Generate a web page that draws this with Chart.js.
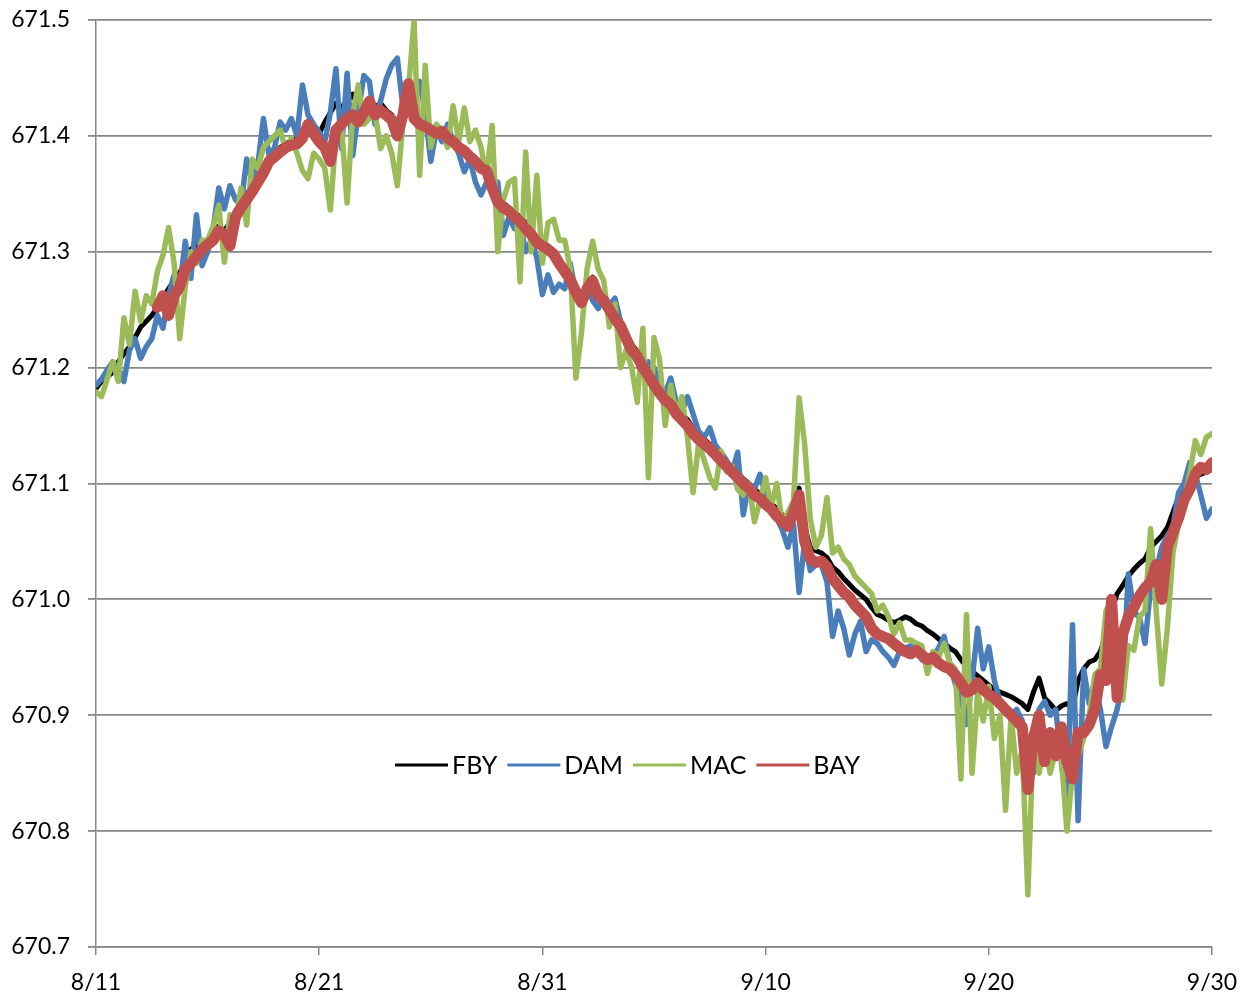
<!DOCTYPE html>
<html>
<head>
<meta charset="utf-8">
<script src="https://cdn.jsdelivr.net/npm/chart.js@4.4.1/dist/chart.umd.min.js"></script>
<style>
  html, body { margin: 0; padding: 0; background: #ffffff; }
  #wrap { width: 1251px; height: 1005px; }
</style>
</head>
<body>
<div id="wrap"><canvas id="c" width="1251" height="1005"></canvas></div>
<script>
// Lake elevation readings, one value every 6 hours starting 8/11 (day 0).
const sampleStepDays = 0.25;
const dateLabels = ['8/11', '8/21', '8/31', '9/10', '9/20', '9/30'];
const seriesNames = ['FBY', 'DAM', 'MAC', 'BAY'];
const seriesColors = ['#000000', '#4a7ebb', '#9bbb59', '#c0504d'];

const fby = [
  671.182, 671.188, 671.192, 671.196,
  671.205, 671.212, 671.218, 671.226,
  671.235, 671.240, 671.245, 671.252,
  671.260, 671.268, 671.275, 671.282,
  671.290, 671.302, 671.306, 671.308,
  671.310, 671.315, 671.322, 671.318,
  671.325, 671.335, 671.342, 671.350,
  671.356, 671.364, 671.372, 671.380,
  671.385, 671.390, 671.393, 671.396,
  671.398, 671.405, 671.412, 671.408,
  671.402, 671.412, 671.420, 671.428,
  671.425, 671.430, 671.436, 671.425,
  671.425, 671.432, 671.425, 671.428,
  671.422, 671.418, 671.410, 671.420,
  671.440, 671.420, 671.415, 671.410,
  671.408, 671.405, 671.406, 671.400,
  671.397, 671.392, 671.390, 671.385,
  671.381, 671.375, 671.372, 671.360,
  671.348, 671.342, 671.338, 671.334,
  671.330, 671.325, 671.318, 671.312,
  671.308, 671.305, 671.300, 671.293,
  671.286, 671.280, 671.270, 671.262,
  671.272, 671.278, 671.266, 671.262,
  671.254, 671.248, 671.240, 671.230,
  671.220, 671.214, 671.205, 671.198,
  671.190, 671.183, 671.177, 671.172,
  671.165, 671.160, 671.155, 671.148,
  671.142, 671.138, 671.134, 671.130,
  671.124, 671.119, 671.114, 671.109,
  671.104, 671.100, 671.095, 671.091,
  671.087, 671.083, 671.078, 671.073,
  671.070, 671.080, 671.096, 671.062,
  671.045, 671.042, 671.040, 671.036,
  671.028, 671.024, 671.018, 671.013,
  671.008, 671.004, 671.000, 670.993,
  670.987, 670.985, 670.982, 670.980,
  670.982, 670.985, 670.983, 670.979,
  670.977, 670.973, 670.970, 670.966,
  670.962, 670.958, 670.955, 670.948,
  670.942, 670.938, 670.934, 670.930,
  670.926, 670.922, 670.920, 670.918,
  670.916, 670.913, 670.910, 670.905,
  670.920, 670.932, 670.915, 670.910,
  670.904, 670.908, 670.910, 670.906,
  670.930, 670.940, 670.946, 670.948,
  670.955, 670.970, 670.990, 671.005,
  671.012, 671.020, 671.026, 671.031,
  671.035, 671.045, 671.050, 671.055,
  671.062, 671.075, 671.088, 671.095,
  671.100, 671.105, 671.108, 671.110,
  671.112
];

const dam = [
  671.185, 671.190, 671.198, 671.205,
  671.200, 671.188, 671.215, 671.225,
  671.208, 671.218, 671.225, 671.245,
  671.234, 671.262, 671.280, 671.270,
  671.309, 671.277, 671.332, 671.288,
  671.300, 671.320, 671.355, 671.337,
  671.357, 671.345, 671.340, 671.380,
  671.360, 671.375, 671.415, 671.383,
  671.390, 671.412, 671.405, 671.415,
  671.400, 671.444, 671.418, 671.410,
  671.403, 671.395, 671.420, 671.458,
  671.389, 671.454, 671.383, 671.420,
  671.452, 671.447, 671.410, 671.430,
  671.449, 671.461, 671.467, 671.425,
  671.440, 671.430, 671.447, 671.420,
  671.378, 671.405, 671.395, 671.410,
  671.395, 671.385, 671.369, 671.380,
  671.360, 671.349, 671.360, 671.355,
  671.360, 671.314, 671.330, 671.320,
  671.325, 671.300, 671.310, 671.295,
  671.263, 671.280, 671.265, 671.272,
  671.268, 671.290, 671.262, 671.263,
  671.270, 671.258, 671.251, 671.262,
  671.254, 671.260, 671.240, 671.230,
  671.212, 671.205, 671.195, 671.205,
  671.200, 671.185, 671.178, 671.191,
  671.170, 671.162, 671.175, 671.160,
  671.145, 671.140, 671.148, 671.133,
  671.127, 671.120, 671.110, 671.127,
  671.073, 671.100, 671.095, 671.108,
  671.090, 671.080, 671.070, 671.060,
  671.045, 671.065, 671.006, 671.050,
  671.025, 671.030, 671.030, 671.015,
  670.968, 670.990, 670.975, 670.952,
  670.970, 670.981, 670.955, 670.965,
  670.962, 670.955, 670.950, 670.943,
  670.955, 670.958, 670.960, 670.955,
  670.948, 670.945, 670.950, 670.958,
  670.968, 670.945, 670.927, 670.915,
  670.892, 670.930, 670.975, 670.940,
  670.959, 670.930, 670.912, 670.905,
  670.900, 670.905, 670.895, 670.870,
  670.850, 670.905, 670.912, 670.900,
  670.905, 670.860, 670.818, 670.978,
  670.809, 670.940, 670.910, 670.930,
  670.905, 670.873, 670.890, 670.905,
  670.930, 671.022, 670.990, 670.984,
  670.962, 671.010, 671.025, 671.045,
  671.055, 671.062, 671.092, 671.100,
  671.118, 671.108, 671.090, 671.070,
  671.078
];

const mac = [
  671.179, 671.175, 671.190, 671.205,
  671.188, 671.243, 671.220, 671.266,
  671.240, 671.262, 671.255, 671.283,
  671.297, 671.321, 671.290, 671.225,
  671.270, 671.300, 671.290, 671.310,
  671.310, 671.322, 671.340, 671.291,
  671.332, 671.325, 671.355, 671.323,
  671.380, 671.372, 671.390, 671.395,
  671.400, 671.405, 671.388, 671.398,
  671.385, 671.370, 671.363, 671.385,
  671.380, 671.372, 671.336, 671.400,
  671.408, 671.342, 671.418, 671.444,
  671.410, 671.415, 671.420, 671.389,
  671.400, 671.385, 671.357, 671.410,
  671.440, 671.500, 671.366, 671.461,
  671.390, 671.410, 671.405, 671.390,
  671.426, 671.395, 671.424, 671.395,
  671.405, 671.390, 671.365, 671.409,
  671.300, 671.345, 671.360, 671.363,
  671.274, 671.386, 671.300, 671.366,
  671.290, 671.325, 671.328, 671.310,
  671.310, 671.285, 671.191, 671.230,
  671.285, 671.309, 671.285, 671.275,
  671.235, 671.255, 671.200, 671.215,
  671.200, 671.170, 671.234, 671.105,
  671.226, 671.207, 671.150, 671.185,
  671.160, 671.175, 671.140, 671.092,
  671.135, 671.120, 671.105, 671.096,
  671.128, 671.110, 671.115, 671.095,
  671.090, 671.100, 671.067, 671.085,
  671.105, 671.080, 671.100, 671.065,
  671.075, 671.085, 671.174, 671.134,
  671.070, 671.045, 671.055, 671.088,
  671.040, 671.045, 671.035, 671.030,
  671.020, 671.015, 671.010, 671.005,
  670.990, 670.995, 670.985, 670.970,
  670.980, 670.965, 670.965, 670.962,
  670.960, 670.936, 670.955, 670.950,
  670.962, 670.945, 670.940, 670.845,
  670.987, 670.850, 670.920, 670.895,
  670.925, 670.880, 670.900, 670.818,
  670.900, 670.850, 670.870, 670.745,
  670.885, 670.850, 670.876, 670.850,
  670.870, 670.865, 670.800, 670.850,
  670.865, 670.880, 670.900, 670.935,
  670.940, 670.990, 671.000, 670.950,
  670.913, 670.960, 670.956, 670.985,
  670.990, 671.061, 670.990, 670.927,
  670.975, 671.040, 671.065, 671.085,
  671.108, 671.137, 671.125, 671.140,
  671.143
];

const bay = [
  null, null, null, null,
  null, null, null, null,
  null, null, null, 671.252,
  671.262, 671.245, 671.262, 671.270,
  671.285, 671.290, 671.296, 671.302,
  671.306, 671.310, 671.318, 671.315,
  671.305, 671.330, 671.338, 671.345,
  671.352, 671.360, 671.368, 671.378,
  671.382, 671.386, 671.390, 671.392,
  671.393, 671.398, 671.410, 671.402,
  671.395, 671.390, 671.378, 671.405,
  671.410, 671.415, 671.418, 671.412,
  671.420, 671.430, 671.418, 671.422,
  671.418, 671.414, 671.400, 671.418,
  671.445, 671.415, 671.410, 671.408,
  671.405, 671.402, 671.404, 671.398,
  671.395, 671.390, 671.387, 671.382,
  671.378, 671.372, 671.370, 671.355,
  671.343, 671.338, 671.335, 671.330,
  671.326, 671.320, 671.315, 671.308,
  671.305, 671.302, 671.298, 671.290,
  671.283, 671.276, 671.265, 671.256,
  671.268, 671.275, 671.262, 671.258,
  671.250, 671.242, 671.236, 671.225,
  671.215, 671.210, 671.200, 671.193,
  671.185, 671.178, 671.172, 671.168,
  671.160, 671.155, 671.150, 671.143,
  671.138, 671.134, 671.130, 671.125,
  671.120, 671.115, 671.110, 671.105,
  671.100, 671.096, 671.090, 671.087,
  671.082, 671.078, 671.072, 671.067,
  671.063, 671.075, 671.090, 671.050,
  671.035, 671.032, 671.033, 671.028,
  671.018, 671.012, 671.006, 671.002,
  670.995, 670.990, 670.985, 670.975,
  670.970, 670.968, 670.966, 670.962,
  670.958, 670.955, 670.953, 670.956,
  670.952, 670.948, 670.950, 670.945,
  670.942, 670.940, 670.935, 670.928,
  670.920, 670.922, 670.928, 670.922,
  670.918, 670.915, 670.910, 670.905,
  670.900, 670.895, 670.890, 670.836,
  670.880, 670.900, 670.860, 670.885,
  670.865, 670.890, 670.860, 670.845,
  670.885, 670.885, 670.892, 670.905,
  670.935, 670.930, 671.000, 670.915,
  670.970, 670.985, 670.993, 671.003,
  671.010, 671.015, 671.030, 671.000,
  671.045, 671.058, 671.070, 671.086,
  671.095, 671.108, 671.114, 671.112,
  671.118
];

const seriesValues = [fby, dam, mac, bay];
const lineWidths = [5, 5.5, 5.5, 11];
const drawOrder = [4, 3, 2, 1]; // BAY painted last, on top

function toPoints(vals) {
  return vals.map((v, i) => ({ x: i * sampleStepDays, y: v }));
}

const axisGrey = '#878787';
const textFont = 'Lato, "Open Sans", sans-serif';

// Legend drawn as a single row inside the plot area, below the curves.
const inlineLegend = {
  id: 'inlineLegend',
  afterDraw(chart) {
    const ctx = chart.ctx;
    const y = 765;
    let x = 395;
    ctx.save();
    ctx.font = '25px ' + textFont;
    ctx.textBaseline = 'middle';
    ctx.textAlign = 'left';
    seriesNames.forEach((name, i) => {
      ctx.strokeStyle = seriesColors[i];
      ctx.lineWidth = 3;
      ctx.lineCap = 'butt';
      ctx.beginPath();
      ctx.moveTo(x, y);
      ctx.lineTo(x + 53, y);
      ctx.stroke();
      ctx.fillStyle = '#000000';
      ctx.fillText(name, x + 57, y + 1);
      x += 57 + ctx.measureText(name).width + 10;
    });
    ctx.restore();
  }
};

function build() {
  const datasets = seriesNames.map((name, i) => ({
    label: name,
    data: toPoints(seriesValues[i]),
    borderColor: seriesColors[i],
    backgroundColor: seriesColors[i],
    borderWidth: lineWidths[i],
    pointRadius: 0,
    tension: 0,
    spanGaps: false,
    borderJoinStyle: 'round',
    borderCapStyle: 'round',
    order: drawOrder[i]
  }));

  new Chart(document.getElementById('c'), {
    type: 'line',
    data: { datasets },
    options: {
      responsive: false,
      maintainAspectRatio: false,
      devicePixelRatio: 1,
      animation: false,
      layout: { padding: { left: 0, right: 39, top: 20, bottom: 0 } },
      plugins: { legend: { display: false }, tooltip: { enabled: false } },
      scales: {
        x: {
          type: 'linear',
          min: 0,
          max: 50,
          ticks: {
            stepSize: 10,
            autoSkip: false,
            maxRotation: 0,
            padding: 14,
            color: '#000000',
            font: { family: textFont, size: 23 },
            callback: (v) => dateLabels[Math.round(v / 10)]
          },
          grid: { drawOnChartArea: false, drawTicks: true, tickLength: 8, color: axisGrey, lineWidth: 1.5 },
          border: { color: axisGrey, width: 1.5 },
          afterFit(scale) { scale.height = 58; scale.paddingLeft = 0; scale.paddingRight = 0; }
        },
        y: {
          min: 670.7,
          max: 671.5,
          ticks: {
            stepSize: 0.1,
            padding: 18,
            color: '#000000',
            font: { family: textFont, size: 23 },
            callback: (v) => Number(v).toFixed(1)
          },
          grid: { color: axisGrey, lineWidth: 1.8, tickLength: 8 },
          border: { color: axisGrey, width: 1.5 },
          afterFit(scale) { scale.width = 96; scale.paddingTop = 0; scale.paddingBottom = 0; }
        }
      }
    },
    plugins: [inlineLegend]
  });
}

if (document.fonts && document.fonts.load) {
  Promise.all([document.fonts.load('23px Lato'), document.fonts.load('25px Lato')]).then(build, build);
} else {
  build();
}
</script>
</body>
</html>
